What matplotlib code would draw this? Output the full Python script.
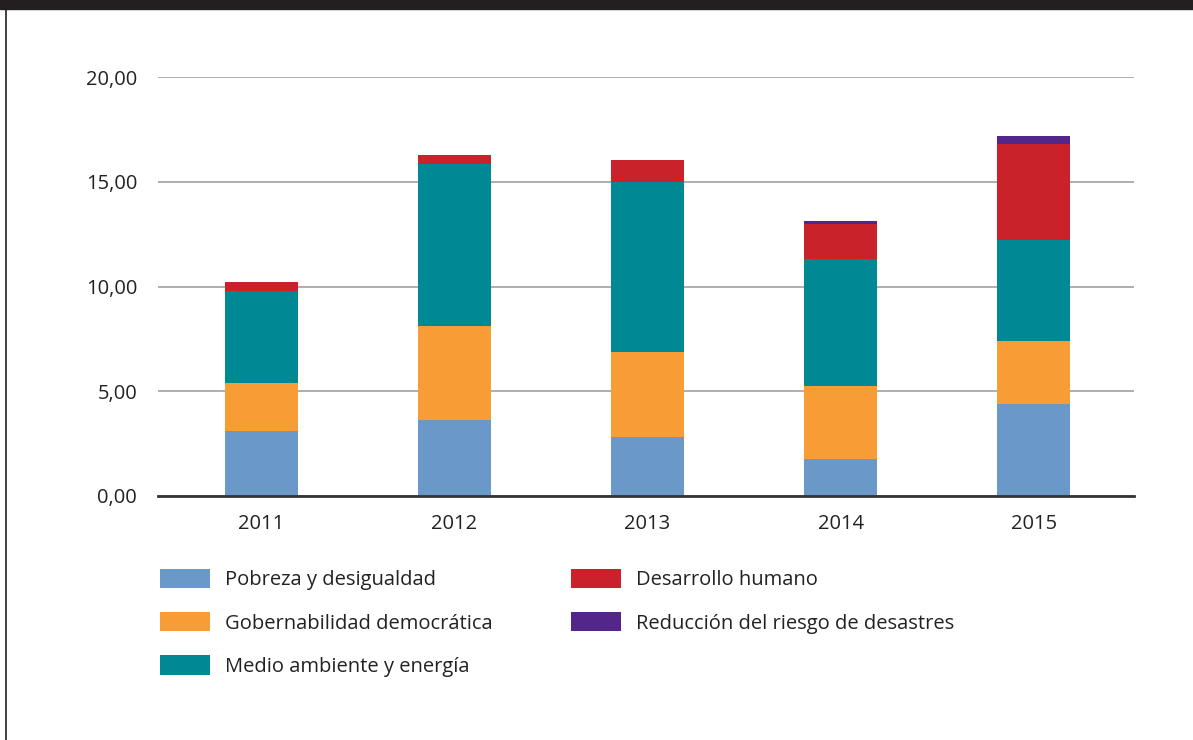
import matplotlib
matplotlib.use("Agg")
import matplotlib.pyplot as plt
from matplotlib.patches import Rectangle
import numpy as np

years = ["2011", "2012", "2013", "2014", "2015"]
series_names = ["Pobreza y desigualdad", "Gobernabilidad democrática",
                "Medio ambiente y energía", "Desarrollo humano",
                "Reducción del riesgo de desastres"]
pobreza = [3.10, 3.63, 2.82, 1.77, 4.39]
gobernabilidad = [2.29, 4.48, 4.07, 3.48, 3.01]
medio_ambiente = [4.40, 7.74, 8.10, 6.06, 4.82]
desarrollo = [0.42, 0.43, 1.05, 1.67, 4.58]
reduccion = [0.00, 0.00, 0.00, 0.15, 0.38]
colors = ["#6a98c8", "#f89d35", "#008894", "#c9222a", "#53268a"]
yticks = [0, 5, 10, 15, 20]
ytick_labels = ["0,00", "5,00", "10,00", "15,00", "20,00"]

plt.rcParams['font.family'] = ['Open Sans', 'DejaVu Sans']

fig = plt.figure(figsize=(11.93, 7.40), dpi=100)
W, H = 1193, 740
ax = fig.add_axes([158 / W, 1 - 496 / H, (1134 - 158) / W, (496 - 77) / H])

x = np.arange(len(years))
bottom = np.zeros(len(years))
handles = []
for name, vals, c in zip(series_names,
                         [pobreza, gobernabilidad, medio_ambiente, desarrollo, reduccion],
                         colors):
    b = ax.bar(x, vals, width=0.378, bottom=bottom, color=c, label=name, zorder=3)
    handles.append(b)
    bottom += np.array(vals)

ax.set_xlim(-0.536, 4.52)
ax.set_ylim(0, 20)
ax.set_yticks(yticks)
ax.set_yticklabels(ytick_labels)
ax.set_xticks(x)
ax.set_xticklabels(years)
ax.grid(axis='y', color='#a8a8a8', linewidth=1.3, zorder=0)
ax.set_axisbelow(True)
for s in ['top', 'right', 'left']:
    ax.spines[s].set_visible(False)
ax.spines['bottom'].set_color('#333333')
ax.spines['bottom'].set_linewidth(2)
ax.spines['bottom'].set_zorder(4)
ax.tick_params(axis='both', length=0, labelsize=14.5, colors='#222222')
ax.tick_params(axis='y', pad=15)
ax.tick_params(axis='x', pad=13)

fs = 14.5
px = fs * 100 / 72
leg = fig.legend(handles=handles, labels=series_names, ncol=2,
                 loc='upper left', bbox_to_anchor=(160 / W, 1 - 569 / H),
                 frameon=False, fontsize=fs, handlelength=50 / px, handleheight=22 / px,
                 handletextpad=15 / px, labelspacing=1.08, columnspacing=3.9,
                 borderpad=0, borderaxespad=0)
for t in leg.get_texts():
    t.set_color('#222222')

# frame
fig.patches.append(Rectangle((0, 1 - 9 / H), 1, 9 / H, transform=fig.transFigure,
                             color='#231f20', zorder=0))
fig.lines.append(plt.Line2D([6.5 / W, 6.5 / W], [0, 1], transform=fig.transFigure,
                            color='#231f20', linewidth=1.2))

fig.savefig("out.png", dpi=100)
